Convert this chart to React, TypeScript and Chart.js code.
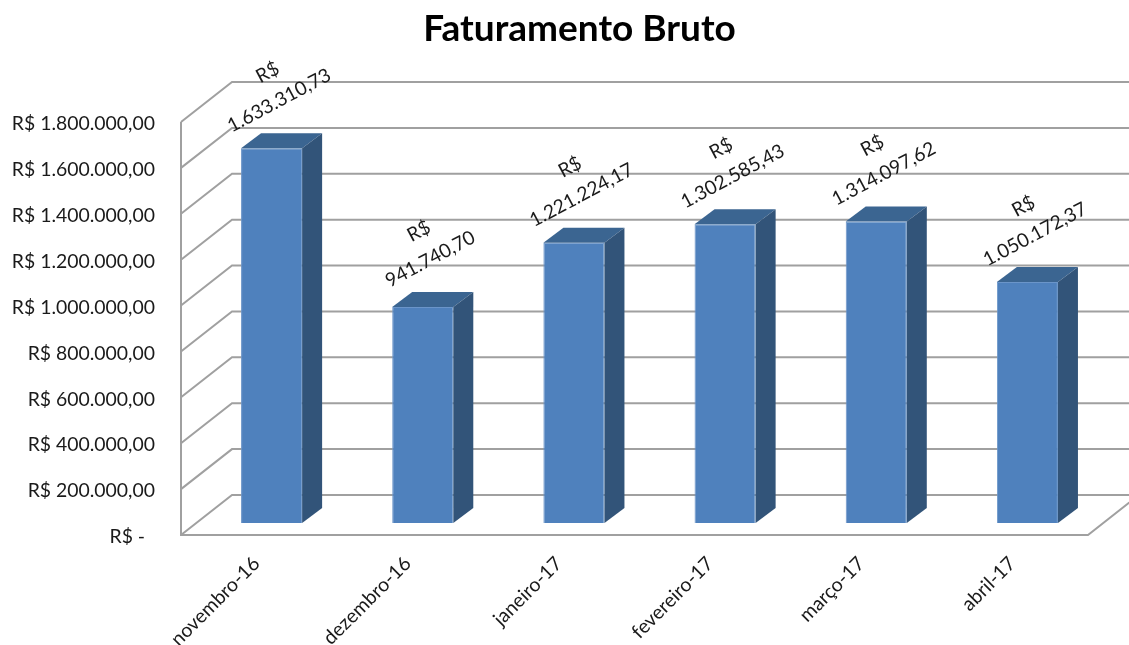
import React, { useEffect, useRef } from "react";
import { Chart, registerables } from "chart.js";

Chart.register(...registerables);

const categories = ["novembro-16", "dezembro-16", "janeiro-17", "fevereiro-17", "março-17", "abril-17"];
const revenue = [1633310.73, 941740.7, 1221224.17, 1302585.43, 1314097.62, 1050172.37];
const yTickValues = [0, 200000, 400000, 600000, 800000, 1000000, 1200000, 1400000, 1600000, 1800000];
const titleText = "Faturamento Bruto";

const FONT = "Lato, 'Open Sans', sans-serif";
const TEXT = "#1a1a1a";
const GRID = "#a0a0a0";
const WALL = { dx: 51, dy: -40 };
const BAR_SHIFT = { dx: 15, dy: -12 };
const BAR_DEPTH = { dx: 20, dy: -15 };

const fmt = (v: number) =>
  v.toLocaleString("pt-BR", { minimumFractionDigits: 2, maximumFractionDigits: 2 });

const scene3d = {
  id: "scene3d",
  beforeDraw(chart: any) {
    // the title is centred over the wall span rather than over the axis box
    if (chart.titleBlock) chart.titleBlock.left = 71;
  },
  beforeDatasetsDraw(chart: any) {
    const { ctx, chartArea: a, scales } = chart;
    const y = scales.y;
    ctx.save();
    ctx.strokeStyle = GRID;
    ctx.lineWidth = 2;
    ctx.beginPath();
    yTickValues.forEach((v) => {
      const py = y.getPixelForValue(v);
      ctx.moveTo(a.left, py);
      ctx.lineTo(a.left + WALL.dx, py + WALL.dy);
      ctx.lineTo(chart.width, py + WALL.dy);
    });
    ctx.moveTo(a.left, a.top);
    ctx.lineTo(a.left, a.bottom);
    ctx.lineTo(a.right, a.bottom);
    ctx.lineTo(a.right + WALL.dx, a.bottom + WALL.dy);
    ctx.stroke();
    ctx.restore();
    ctx.save();
    ctx.translate(BAR_SHIFT.dx, BAR_SHIFT.dy);
  },
  afterDatasetsDraw(chart: any) {
    const { ctx } = chart;
    ctx.restore();
    const meta = chart.getDatasetMeta(0);
    meta.data.forEach((el: any, i: number) => {
      const { x, y, width, base } = el.getProps(["x", "y", "width", "base"], true);
      const l = x - width / 2 + BAR_SHIFT.dx;
      const r = x + width / 2 + BAR_SHIFT.dx;
      const t = y + BAR_SHIFT.dy;
      const b = base + BAR_SHIFT.dy;
      ctx.save();
      ctx.fillStyle = "#3b6591";
      ctx.beginPath();
      ctx.moveTo(l, t);
      ctx.lineTo(l + BAR_DEPTH.dx, t + BAR_DEPTH.dy);
      ctx.lineTo(r + BAR_DEPTH.dx, t + BAR_DEPTH.dy);
      ctx.lineTo(r, t);
      ctx.closePath();
      ctx.fill();
      ctx.fillStyle = "#325479";
      ctx.beginPath();
      ctx.moveTo(r, t);
      ctx.lineTo(r + BAR_DEPTH.dx, t + BAR_DEPTH.dy);
      ctx.lineTo(r + BAR_DEPTH.dx, b + BAR_DEPTH.dy);
      ctx.lineTo(r, b);
      ctx.closePath();
      ctx.fill();

      ctx.translate(x + BAR_SHIFT.dx + 0.5, t - 61);
      ctx.rotate((-28 * Math.PI) / 180);
      ctx.font = `19.3px ${FONT}`;
      ctx.fillStyle = TEXT;
      ctx.textAlign = "center";
      ctx.textBaseline = "middle";
      ctx.fillText("R$", 3, -15);
      ctx.fillText(fmt(revenue[i]), 0, 15);
      ctx.restore();
    });
  },
};

export default function App() {
  const ref = useRef<HTMLCanvasElement>(null);
  useEffect(() => {
    document.body.style.margin = "0";
    document.body.style.background = "#fff";
    const chart = new Chart(ref.current!, {
      type: "bar",
      data: {
        labels: categories,
        datasets: [
          {
            data: revenue,
            backgroundColor: "#4f81bd",
            borderColor: "#6b95c9",
            borderWidth: 1,
            barPercentage: 0.404,
            categoryPercentage: 1,
            clip: false as any,
          },
        ],
      },
      options: {
        responsive: false,
        animation: false,
        layout: { padding: { top: 0, left: 0, right: 41, bottom: 0 } },
        plugins: {
          legend: { display: false },
          tooltip: { enabled: false },
          title: {
            display: true,
            text: titleText,
            color: "#000",
            font: { family: FONT, size: 37, weight: "bold", lineHeight: 1.2 },
            padding: { top: 6.5, bottom: 71.1 },
          },
        },
        scales: {
          x: {
            grid: { display: false },
            border: { display: false },
            afterFit: (s: any) => {
              s.height = 110;
            },
            ticks: {
              autoSkip: false,
              minRotation: 45,
              maxRotation: 45,
              padding: 9,
              color: TEXT,
              font: { family: FONT, size: 19.5 },
            },
          },
          y: {
            min: 0,
            max: 1800000,
            grid: { display: false, drawTicks: false },
            border: { display: false },
            afterFit: (s: any) => {
              s.width = 181;
            },
            ticks: {
              stepSize: 200000,
              padding: 26,
              labelOffset: 2,
              color: TEXT,
              font: { family: FONT, size: 19.4 },
              callback: (v: any) => (v === 0 ? "R$ -  " : `R$ ${fmt(Number(v))}`),
            },
          },
        },
      },
      plugins: [scene3d],
    } as any);
    return () => chart.destroy();
  }, []);
  return (
    <div style={{ width: 1129, height: 645, overflow: "hidden" }}>
      <canvas ref={ref} width={1129} height={645} style={{ display: "block" }} />
    </div>
  );
}
